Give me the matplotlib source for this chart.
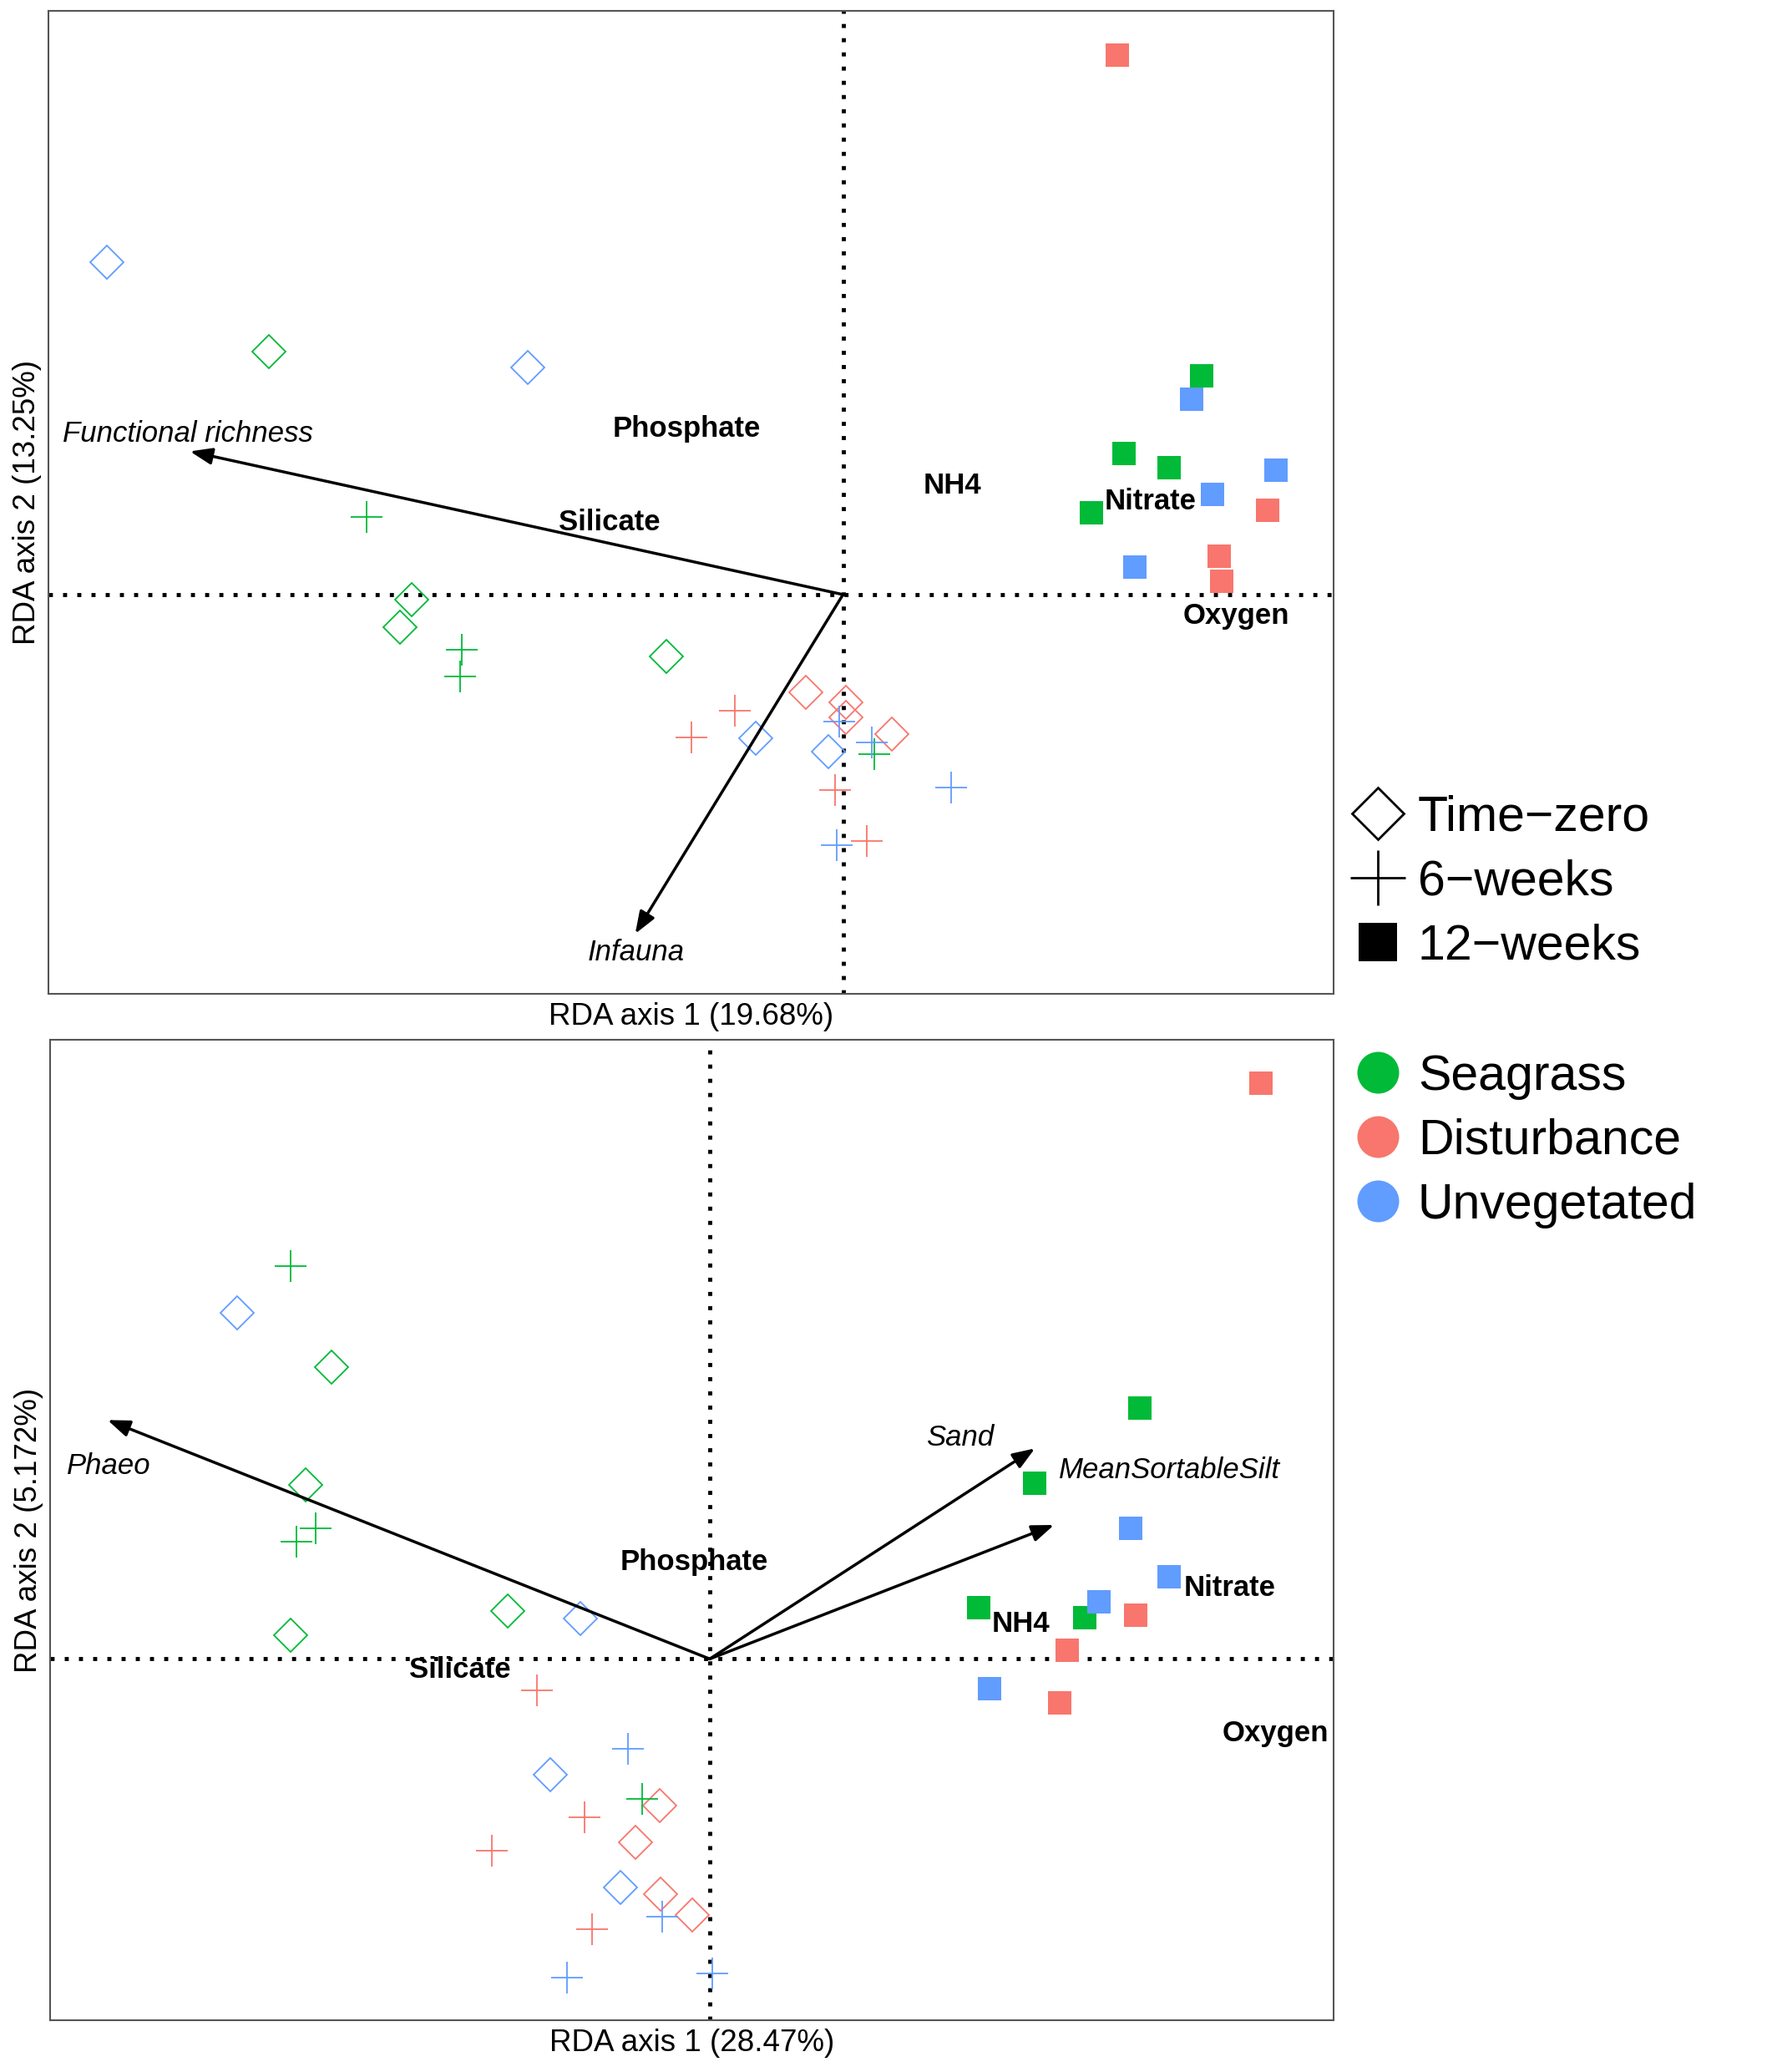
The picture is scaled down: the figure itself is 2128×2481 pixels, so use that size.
import matplotlib
matplotlib.use('Agg')
import matplotlib.pyplot as plt
from matplotlib.lines import Line2D

plt.rcParams['font.family'] = ['Liberation Sans', 'DejaVu Sans']

# ---------------- categories ----------------
time_codes = ['T0', 'W6', 'W12']
time_labels = ['Time\u2212zero', '6\u2212weeks', '12\u2212weeks']
site_codes = ['S', 'D', 'U']
site_labels = ['Seagrass', 'Disturbance', 'Unvegetated']
site_colors = ['#00BA38', '#F8766D', '#619CFF']

# ---------------- top panel (RDA 1 vs 2) ----------------
top_x = [-5.58, -4.35, -2.39, -3.27, -3.36, -1.34, -0.28, 0.02, 0.02, 0.37, -0.66, -0.11,
         -3.61, -2.89, -2.90, 0.24, -0.82, -1.15, -0.06, 0.18, -0.03, 0.22, 0.82, -0.05,
         2.08, 2.72, 2.64, 2.13, 2.47, 3.28, 2.80, 3.22, 1.88, 2.21, 2.85, 2.87]
top_y = [2.52, 1.84, 1.72, -0.04, -0.25, -0.47, -0.74, -0.82, -0.93, -1.06, -1.09, -1.19,
         0.59, -0.42, -0.62, -1.21, -0.88, -1.08, -1.48, -1.87, -0.96, -1.12, -1.46, -1.90,
         4.09, 1.66, 1.48, 1.07, 0.96, 0.94, 0.76, 0.64, 0.62, 0.21, 0.29, 0.10]
top_time = ['T0'] * 12 + ['W6'] * 12 + ['W12'] * 12
top_site = ['U', 'S', 'U', 'S', 'S', 'S', 'D', 'D', 'D', 'D', 'U', 'U',
            'S', 'S', 'S', 'S', 'D', 'D', 'D', 'D', 'U', 'U', 'U', 'U',
            'D', 'S', 'U', 'S', 'S', 'U', 'U', 'D', 'S', 'U', 'D', 'D']

top_arrow_names = ['Functional richness', 'Infauna']
top_arrow_x = [-4.95, -1.575]
top_arrow_y = [1.085, -2.57]
top_arrow_lab_x = [-4.965, -1.57]
top_arrow_lab_y = [1.217, -2.71]

top_env_names = ['Phosphate', 'Silicate', 'NH4', 'Nitrate', 'Oxygen']
top_env_x = [-1.185, -1.77, 0.83, 2.33, 2.98]
top_env_y = [1.255, 0.547, 0.827, 0.705, -0.163]

top_xlim = (-6.02, 3.72)
top_ylim = (-3.025, 4.425)
top_xlabel = 'RDA axis 1 (19.68%)'
top_ylabel = 'RDA axis 2 (13.25%)'

# ---------------- bottom panel ----------------
bot_x = [-3.585, -2.87, -3.065, -1.53, -0.98, -3.18, -1.21, -0.38, -0.565, -0.68, -0.37, -0.13,
         -3.18, -2.99, -3.13, -0.51, -1.31, -0.95, -1.65, -0.89, -0.62, -0.36, -1.08, 0.02,
         4.18, 3.26, 2.46, 3.19, 3.48, 2.04, 2.95, 2.84, 3.23, 2.71, 2.12, 2.65]
bot_y = [2.62, 2.21, 1.32, 0.36, 0.305, 0.18, -0.88, -1.11, -1.39, -1.73, -1.78, -1.94,
         2.975, 0.99, 0.89, -1.06, -0.24, -1.20, -1.45, -2.045, -0.68, -1.95, -2.415, -2.385,
         4.36, 1.90, 1.33, 0.99, 0.625, 0.39, 0.43, 0.315, 0.33, 0.065, -0.225, -0.33]
bot_time = ['T0'] * 12 + ['W6'] * 12 + ['W12'] * 12
bot_site = ['U', 'S', 'S', 'S', 'U', 'S', 'U', 'D', 'D', 'U', 'D', 'D',
            'S', 'S', 'S', 'S', 'D', 'D', 'D', 'D', 'U', 'U', 'U', 'U',
            'D', 'S', 'S', 'U', 'U', 'S', 'U', 'S', 'D', 'D', 'U', 'D']

bot_arrow_names = ['Phaeo', 'Sand', 'MeanSortableSilt']
bot_arrow_x = [-4.565, 2.465, 2.61]
bot_arrow_y = [1.81, 1.595, 1.015]
bot_arrow_lab_x = [-4.555, 1.90, 3.485]
bot_arrow_lab_y = [1.46, 1.675, 1.43]

bot_env_names = ['Phosphate', 'Silicate', 'NH4', 'Nitrate', 'Oxygen']
bot_env_x = [-0.12, -1.895, 2.36, 3.94, 4.29]
bot_env_y = [0.735, -0.085, 0.265, 0.535, -0.565]

bot_xlim = (-5.00, 4.73)
bot_ylim = (-2.74, 4.69)
bot_xlabel = 'RDA axis 1 (28.47%)'
bot_ylabel = 'RDA axis 2 (5.172%)'

# ---------------- styles ----------------
marker_style = {
    'T0': dict(marker='D', markersize=20, markerfacecolor='none', markeredgewidth=1.3),
    'W6': dict(marker='+', markersize=28, markeredgewidth=1.3),
    'W12': dict(marker='s', markersize=19.5, markeredgewidth=0),
}

fig = plt.figure(figsize=(21.28, 24.81), dpi=100)
ax1 = fig.add_axes([0.02747, 0.52038, 0.72309, 0.47452])
ax2 = fig.add_axes([0.02821, 0.02484, 0.72234, 0.47325])


def draw_panel(ax, xs, ys, times, sitesl, arrow_names, ax_x, ax_y, lab_x, lab_y,
               env_names, env_x, env_y, xlim, ylim, xlabel, ylabel):
    ax.set_xlim(*xlim)
    ax.set_ylim(*ylim)
    ax.axhline(0, color='black', lw=3.5, ls=(0, (1, 2.5)), zorder=1)
    ax.axvline(0, color='black', lw=3.5, ls=(0, (1, 2.5)), zorder=1)
    for tc in time_codes:
        for sc, col in zip(site_codes, site_colors):
            px = [x for x, t, s in zip(xs, times, sitesl) if t == tc and s == sc]
            py = [y for y, t, s in zip(ys, times, sitesl) if t == tc and s == sc]
            st = dict(marker_style[tc])
            if tc == 'W12':
                st['markerfacecolor'] = col
            ax.plot(px, py, ls='none', color=col, markeredgecolor=col, zorder=3, **st)
    for name, tx, ty, lx, ly in zip(arrow_names, ax_x, ax_y, lab_x, lab_y):
        ax.annotate('', xy=(tx, ty), xytext=(0, 0),
                    arrowprops=dict(arrowstyle='-|>,head_length=0.4,head_width=0.15',
                                    lw=2.5, color='black', shrinkA=0, shrinkB=0,
                                    mutation_scale=40), zorder=4)
        ax.text(lx, ly, name, style='italic', fontsize=25, ha='center', va='center', zorder=5)
    for name, ex, ey in zip(env_names, env_x, env_y):
        ax.text(ex, ey, name, fontweight='bold', fontsize=25, ha='center', va='center', zorder=5)
    ax.set_xticks([])
    ax.set_yticks([])
    for sp in ax.spines.values():
        sp.set_color('#555555')
        sp.set_linewidth(1.5)
    ax.set_xlabel(xlabel, fontsize=26.5, labelpad=7)
    ax.set_ylabel(ylabel, fontsize=26.5, labelpad=6)


draw_panel(ax1, top_x, top_y, top_time, top_site, top_arrow_names, top_arrow_x, top_arrow_y,
           top_arrow_lab_x, top_arrow_lab_y, top_env_names, top_env_x, top_env_y,
           top_xlim, top_ylim, top_xlabel, top_ylabel)
draw_panel(ax2, bot_x, bot_y, bot_time, bot_site, bot_arrow_names, bot_arrow_x, bot_arrow_y,
           bot_arrow_lab_x, bot_arrow_lab_y, bot_env_names, bot_env_x, bot_env_y,
           bot_xlim, bot_ylim, bot_xlabel, bot_ylabel)

# ---------------- legends ----------------
leg_marker = {
    'T0': dict(marker='D', markersize=32, markerfacecolor='none', markeredgecolor='black',
               markeredgewidth=2),
    'W6': dict(marker='+', markersize=48, markeredgecolor='black', markeredgewidth=2),
    'W12': dict(marker='s', markersize=33, markerfacecolor='black', markeredgewidth=0),
}
time_handles = [Line2D([], [], ls='none', color='black', **leg_marker[tc]) for tc in time_codes]
site_handles = [Line2D([], [], ls='none', marker='o', markersize=36, markerfacecolor=c,
                       markeredgewidth=0) for c in site_colors]

common = dict(loc='upper left', frameon=False, fontsize=42.5, borderpad=0, borderaxespad=0,
              handlelength=1.0, handletextpad=0.32, labelspacing=0.37, handleheight=0.7)
leg1 = fig.legend(time_handles, time_labels, bbox_to_anchor=(0.7613, 0.6163), **common)
leg2 = fig.legend(site_handles, site_labels, bbox_to_anchor=(0.7613, 0.4913), **common)

fig.savefig('out.png', dpi=100)
